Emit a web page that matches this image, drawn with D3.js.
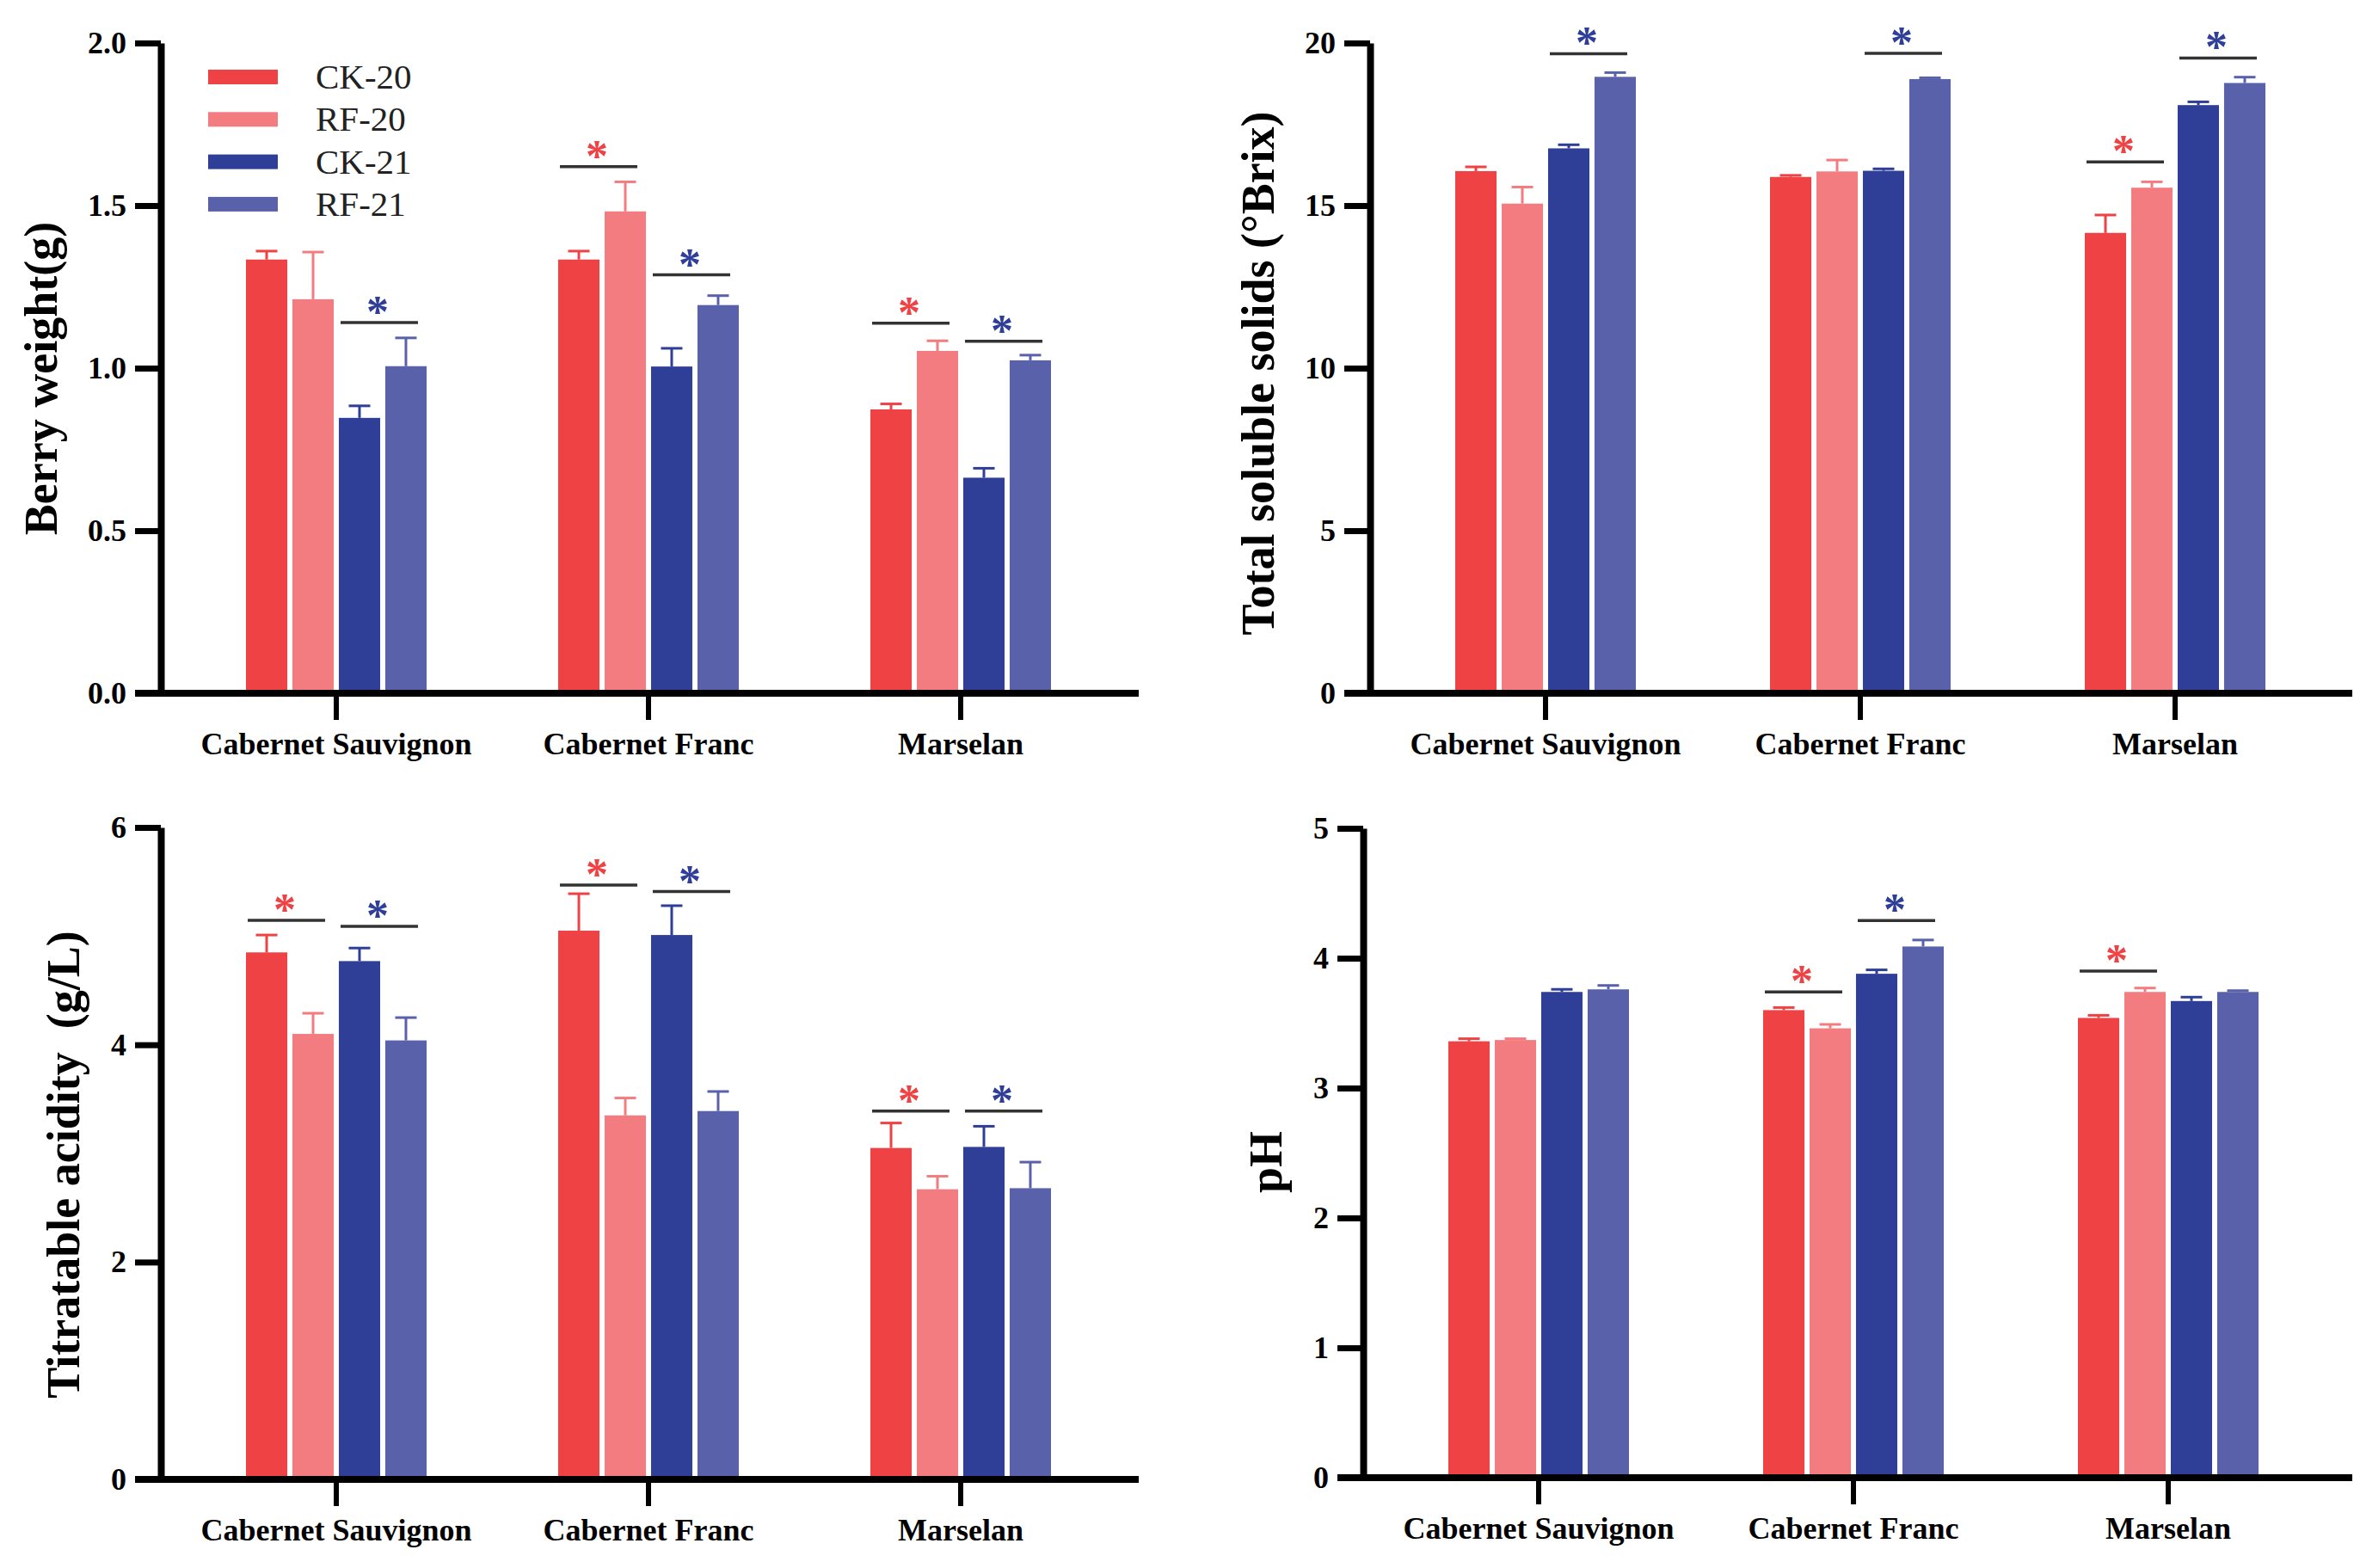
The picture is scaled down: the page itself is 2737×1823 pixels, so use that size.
<!DOCTYPE html>
<html>
<head>
<meta charset="utf-8">
<script src="https://d3js.org/d3.v7.min.js"></script>
<style>
  body { margin: 0; background: #ffffff; }
  svg { display: block; }
  text { font-family: "Liberation Serif", "Times New Roman", serif; }
</style>
</head>
<body>
<div id="chart"></div>
<script>
// grape berry quality charts (4 panels)

const FRAME_WIDTH = 2737;
const FRAME_HEIGHT = 1823;

// shared categories and series
const categories = ["Cabernet Sauvignon", "Cabernet Franc", "Marselan"];
const series = ["CK-20", "RF-20", "CK-21", "RF-21"];
const seriesColors = ["#EE4245", "#F37C80", "#2F3F98", "#5A61AB"];
const sigColors = ["#EE4245", "#2F3F98"];

// berry weight (g): rows = categories, cols = series
const berryMean = [[1.334, 1.212, 0.847, 1.006],
                   [1.334, 1.482, 1.005, 1.194],
                   [0.873, 1.053, 0.663, 1.024]];
const berryErr = [[0.026, 0.145, 0.037, 0.087],
                  [0.026, 0.091, 0.056, 0.029],
                  [0.017, 0.031, 0.029, 0.016]];
const berryTicks = [0, 0.5, 1.0, 1.5, 2.0];
// significance marks: [category, pair (0 = 20, 1 = 21), height]
const berrySig = [[0, 1, 1.14], [1, 0, 1.62], [1, 1, 1.287], [2, 0, 1.138], [2, 1, 1.083]];

// total soluble solids (°Brix)
const tssMean = [[16.06, 15.06, 16.76, 18.96],
                 [15.88, 16.05, 16.07, 18.89],
                 [14.16, 15.55, 18.09, 18.77]];
const tssErr = [[0.13, 0.51, 0.11, 0.13],
                [0.05, 0.35, 0.06, 0.04],
                [0.55, 0.18, 0.10, 0.18]];
const tssTicks = [0, 5, 10, 15, 20];
const tssSig = [[0, 1, 19.67], [1, 1, 19.68], [2, 0, 16.34], [2, 1, 19.54]];

// titratable acidity (g/L)
const taMean = [[4.85, 4.10, 4.77, 4.04],
                [5.05, 3.35, 5.01, 3.39],
                [3.05, 2.67, 3.06, 2.68]];
const taErr = [[0.16, 0.19, 0.12, 0.21],
               [0.34, 0.16, 0.27, 0.18],
               [0.23, 0.12, 0.19, 0.24]];
const taTicks = [0, 2, 4, 6];
const taSig = [[0, 0, 5.145], [0, 1, 5.09], [1, 0, 5.47], [1, 1, 5.41], [2, 0, 3.39], [2, 1, 3.39]];

// pH
const phMean = [[3.36, 3.37, 3.74, 3.76],
                [3.60, 3.46, 3.88, 4.09],
                [3.54, 3.74, 3.67, 3.74]];
const phErr = [[0.02, 0.01, 0.02, 0.03],
               [0.02, 0.03, 0.03, 0.05],
               [0.02, 0.03, 0.03, 0.01]];
const phTicks = [0, 1, 2, 3, 4, 5];
const phSig = [[1, 0, 3.74], [1, 1, 4.29], [2, 0, 3.90]];

const FRAME = d3.select('#chart')
                .append('svg')
                  .attr('width', FRAME_WIDTH)
                  .attr('height', FRAME_HEIGHT);

FRAME.append('rect')
    .attr('width', FRAME_WIDTH)
    .attr('height', FRAME_HEIGHT)
    .attr('fill', '#ffffff');

// panel layout
const panels = [
  {x0: 187, top: 50, bottom: 806, max: 2, ticks: berryTicks, fmt: '.1f',
   step: 363, axisEnd: 1137,
   mean: berryMean, err: berryErr, sig: berrySig,
   title: 'Berry weight(g)', titleX: 66, titleY: 440, legend: true},
  {x0: 1593, top: 50, bottom: 806, max: 20, ticks: tssTicks, fmt: 'd',
   step: 366, axisEnd: 1142,
   mean: tssMean, err: tssErr, sig: tssSig,
   title: 'Total soluble solids (°Brix)', titleX: 1481, titleY: 434},
  {x0: 187, top: 962, bottom: 1720, max: 6, ticks: taTicks, fmt: 'd',
   step: 363, axisEnd: 1137,
   mean: taMean, err: taErr, sig: taSig,
   title: 'Titratable acidity  (g/L)', titleX: 92, titleY: 1354},
  {x0: 1585, top: 963, bottom: 1718, max: 5, ticks: phTicks, fmt: 'd',
   step: 366, axisEnd: 1150,
   mean: phMean, err: phErr, sig: phSig,
   title: 'pH', titleX: 1490, titleY: 1351}
];

panels.forEach((p) => {

  const g = FRAME.append('g');

  // category scale (center of each group)
  const first = p.x0 + 204;
  const xscale = d3.scaleBand()
      .domain(categories)
      .range([first - p.step / 2, first + 2.5 * p.step])
      .padding(0);

  // bars inside a group
  const xinner = d3.scaleBand()
      .domain(series)
      .range([-105, 105])
      .paddingInner(0.11);

  const yscale = d3.scaleLinear()
      .domain([0, p.max])
      .range([p.bottom, p.top]);

  const center = (c) => xscale(c) + xscale.bandwidth() / 2;

  // flatten the values
  const rows = [];
  categories.forEach((c, i) => {
    series.forEach((s, j) => {
      rows.push({cat: c, ser: s, j: j, v: p.mean[i][j], e: p.err[i][j]});
    });
  });

  // bars
  g.selectAll('.bar')
    .data(rows)
    .enter()
    .append('rect')
      .attr('x', (d) => center(d.cat) + xinner(d.ser))
      .attr('y', (d) => yscale(d.v))
      .attr('width', xinner.bandwidth())
      .attr('height', (d) => yscale(0) - yscale(d.v))
      .attr('fill', (d) => seriesColors[d.j]);

  // error bars (upper only)
  const bw = xinner.bandwidth();
  g.selectAll('.errline')
    .data(rows)
    .enter()
    .append('line')
      .attr('x1', (d) => center(d.cat) + xinner(d.ser) + bw / 2)
      .attr('x2', (d) => center(d.cat) + xinner(d.ser) + bw / 2)
      .attr('y1', (d) => yscale(d.v))
      .attr('y2', (d) => yscale(d.v + d.e))
      .attr('stroke', (d) => seriesColors[d.j])
      .attr('stroke-width', 3);

  g.selectAll('.errcap')
    .data(rows)
    .enter()
    .append('line')
      .attr('x1', (d) => center(d.cat) + xinner(d.ser) + bw / 2 - 12.5)
      .attr('x2', (d) => center(d.cat) + xinner(d.ser) + bw / 2 + 12.5)
      .attr('y1', (d) => yscale(d.v + d.e))
      .attr('y2', (d) => yscale(d.v + d.e))
      .attr('stroke', (d) => seriesColors[d.j])
      .attr('stroke-width', 3);

  // significance lines and stars
  const pairMid = (d) => {
    const a = series[d[1] * 2], b = series[d[1] * 2 + 1];
    return center(categories[d[0]]) + (xinner(a) + xinner(b)) / 2 + bw / 2 - 4;
  };

  g.selectAll('.sigline')
    .data(p.sig)
    .enter()
    .append('line')
      .attr('x1', (d) => pairMid(d) - 45)
      .attr('x2', (d) => pairMid(d) + 45)
      .attr('y1', (d) => yscale(d[2]))
      .attr('y2', (d) => yscale(d[2]))
      .attr('stroke', '#333333')
      .attr('stroke-width', 3.5);

  g.selectAll('.star')
    .data(p.sig)
    .enter()
    .append('text')
      .attr('x', (d) => pairMid(d) - 2)
      .attr('y', (d) => yscale(d[2]) + 5)
      .attr('text-anchor', 'middle')
      .attr('font-size', '52px')
      .attr('font-weight', 'bold')
      .attr('fill', (d) => sigColors[d[1]])
      .text('*');

  // y axis
  const yaxis = g.append('g')
      .attr('transform', 'translate(' + p.x0 + ',0)')
      .call(d3.axisLeft(yscale)
              .tickValues(p.ticks)
              .tickFormat(d3.format(p.fmt))
              .tickSize(30)
              .tickSizeOuter(0)
              .tickPadding(10));
  yaxis.select('.domain').attr('stroke-width', 8).attr('stroke', '#000');
  yaxis.selectAll('.tick line').attr('stroke-width', 7).attr('stroke', '#000');
  yaxis.selectAll('.tick text')
      .attr('font-size', '36px')
      .attr('font-weight', 'bold')
      .attr('fill', '#000');

  // x axis line
  g.append('line')
      .attr('x1', p.x0 - 30)
      .attr('x2', p.x0 + p.axisEnd)
      .attr('y1', p.bottom)
      .attr('y2', p.bottom)
      .attr('stroke', '#000')
      .attr('stroke-width', 8);

  const xaxis = g.append('g')
      .attr('transform', 'translate(0,' + p.bottom + ')')
      .call(d3.axisBottom(xscale)
              .tickSize(31)
              .tickSizeOuter(0)
              .tickPadding(14));
  xaxis.select('.domain').remove();
  xaxis.selectAll('.tick line').attr('stroke-width', 6).attr('stroke', '#000');
  xaxis.selectAll('.tick text')
      .attr('font-size', '36px')
      .attr('font-weight', 'bold')
      .attr('fill', '#000');

  // y axis title
  g.append('text')
      .attr('transform', 'translate(' + p.titleX + ',' + p.titleY + ') rotate(-90)')
      .attr('text-anchor', 'middle')
      .attr('font-size', '54px')
      .attr('font-weight', 'bold')
      .style('white-space', 'pre')
      .text(p.title);

  // legend
  if (p.legend) {
    const lg = g.append('g');
    series.forEach((s, j) => {
      lg.append('rect')
          .attr('x', 242)
          .attr('y', 81 + j * 49.3)
          .attr('width', 81)
          .attr('height', 17)
          .attr('fill', seriesColors[j]);
      lg.append('text')
          .attr('x', 367)
          .attr('y', 103 + j * 49.3)
          .attr('font-size', '41px')
          .attr('fill', '#222')
          .text(s);
    });
  }
});
</script>
</body>
</html>
